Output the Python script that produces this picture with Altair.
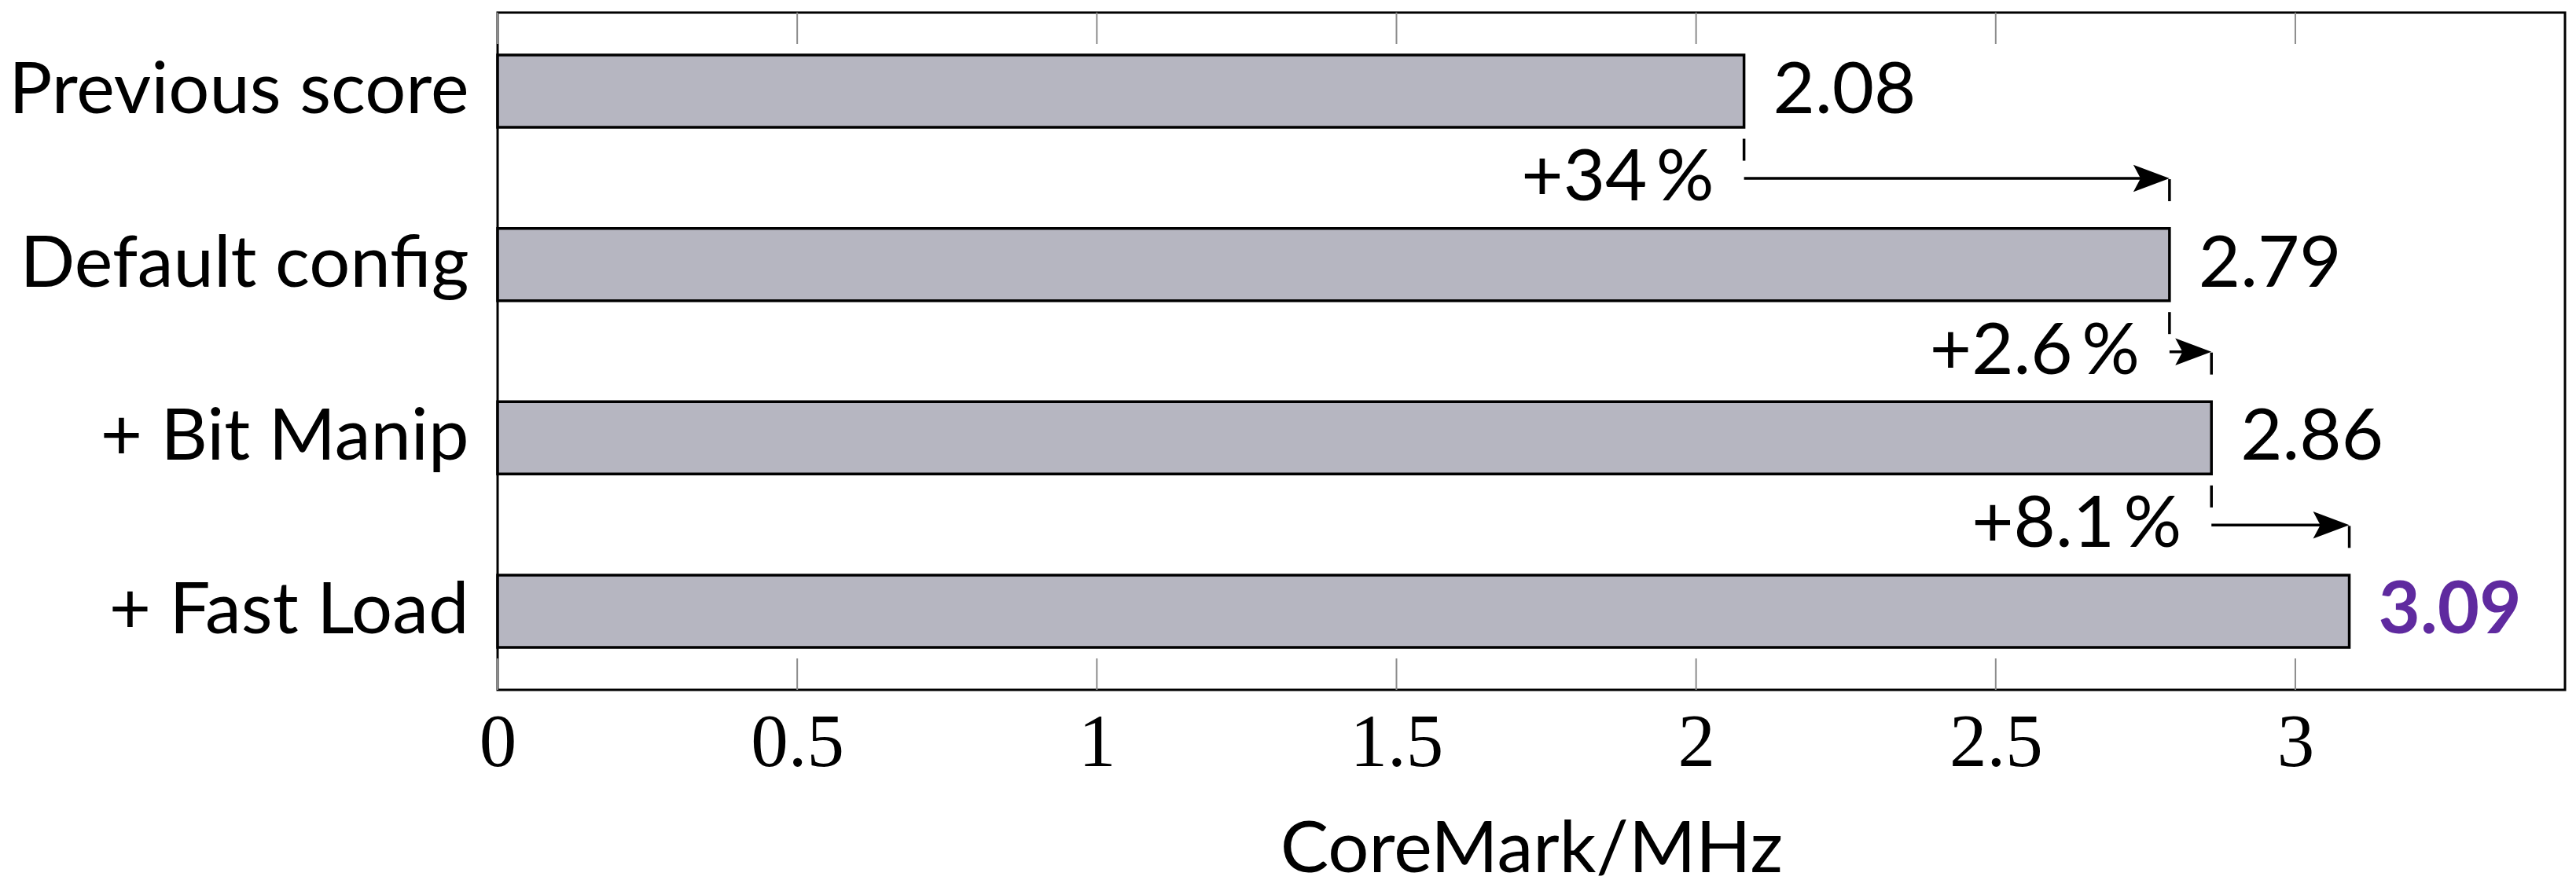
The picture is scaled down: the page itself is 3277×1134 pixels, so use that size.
import altair as alt
import pandas as pd

categories = ["Previous score", "Default config", "+ Bit Manip", "+ Fast Load"]
scores = [2.08, 2.79, 2.86, 3.09]
gain_labels = ["+34\u2009%", "+2.6\u2009%", "+8.1\u2009%"]
x_ticks = [0, 0.5, 1, 1.5, 2, 2.5, 3]

bars_df = pd.DataFrame({"category": categories, "score": scores})
steps_df = pd.DataFrame({
    "category": categories[:-1],
    "x_from": scores[:-1],
    "x_to": scores[1:],
    "label": gain_labels,
})
ticks_df = pd.DataFrame({"tick": x_ticks})

SANS = "Lato"
SERIF = "Liberation Serif"
FS = 92
W, H = 2630, 862

x_scale = alt.Scale(domain=[0, 3.45], nice=False, zero=True)
y_scale = alt.Scale(domain=categories, paddingInner=0.583, paddingOuter=0.245)

x_axis = alt.Axis(
    values=x_ticks, format="~g", title="CoreMark/MHz",
    labelFont=SERIF, labelFontSize=95, labelColor="black", labelPadding=21,
    labelFlush=False, labelLimit=500,
    ticks=False, domain=False, grid=False,
    titleFont=SANS, titleFontSize=FS, titleFontWeight="normal", titleColor="black",
    titlePadding=43,
)
y_axis = alt.Axis(
    title=None, labelFont=SANS, labelFontSize=FS, labelColor="black",
    labelPadding=37, labelLimit=1000, ticks=False, domain=False, grid=False,
    minExtent=625, maxExtent=625,
)


def xq(field):
    return alt.X(field, type="quantitative", scale=x_scale, axis=x_axis)


def yc():
    return alt.Y("category:N", scale=y_scale, sort=categories, axis=y_axis)


bars = alt.Chart(bars_df).mark_bar(
    fill="#b6b6c1", stroke="black", strokeWidth=3.5
).encode(x=xq("score"), y=yc())

vals = alt.Chart(bars_df).transform_filter(
    alt.datum.category != categories[-1]
).mark_text(
    align="left", baseline="middle", dx=37, font=SANS, fontSize=FS, color="black"
).encode(
    x=xq("score"), y=yc(),
    text=alt.Text("score:Q", format=".2f"),
)

best = alt.Chart(bars_df).transform_filter(
    alt.datum.category == categories[-1]
).mark_text(
    align="left", baseline="middle", dx=37, font=SANS, fontSize=FS,
    fontWeight="bold", color="#5f2a9f"
).encode(
    x=xq("score"), y=yc(),
    text=alt.Text("score:Q", format=".2f"),
)

top_ticks = alt.Chart(ticks_df).mark_rule(color="#8c8c8c", strokeWidth=2).encode(
    x=xq("tick"), y=alt.value(0), y2=alt.value(40),
)
bottom_ticks = alt.Chart(ticks_df).mark_rule(color="#8c8c8c", strokeWidth=2).encode(
    x=xq("tick"), y=alt.value(H - 40), y2=alt.value(H),
)

arrow_line = alt.Chart(steps_df).mark_rule(
    color="black", strokeWidth=3.5, yOffset=111, x2Offset=-10
).encode(x=xq("x_from"), x2="x_to:Q", y=yc())

start_tick = alt.Chart(steps_df).mark_point(
    shape="M0,-1L0,1", filled=False, color="black", strokeWidth=3.5,
    size=784, yOffset=74.5, opacity=1
).encode(x=xq("x_from"), y=yc())

end_tick = alt.Chart(steps_df).mark_point(
    shape="M0,-1L0,1", filled=False, color="black", strokeWidth=3.5,
    size=784, yOffset=126, opacity=1
).encode(x=xq("x_to"), y=yc())

arrow_head = alt.Chart(steps_df).mark_point(
    shape="M-2,-0.75L0,0L-2,0.75L-1.6,0Z", filled=True, color="black",
    size=2116, yOffset=111, opacity=1
).encode(x=xq("x_to"), y=yc())

gain_text = alt.Chart(steps_df).mark_text(
    align="right", baseline="middle", dx=-38, dy=111,
    font=SANS, fontSize=FS, color="black"
).encode(x=xq("x_from"), y=yc(), text="label:N")

chart = alt.layer(
    top_ticks, bottom_ticks, bars, vals, best,
    arrow_line, start_tick, end_tick, arrow_head, gain_text,
).properties(
    width=W, height=H,
    padding={"left": 0, "top": 7, "right": 5, "bottom": 5},
).configure_view(
    stroke="black", strokeWidth=3
)

chart.save("out.html", embed_options={"renderer": "svg", "actions": False})
